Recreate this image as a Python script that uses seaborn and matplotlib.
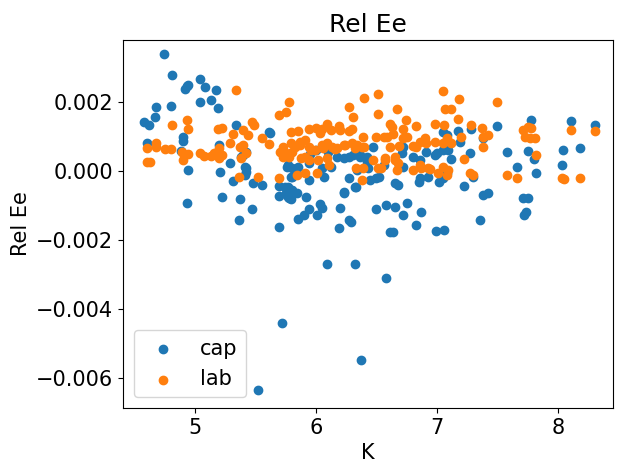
import numpy as np
import pandas as pd
import seaborn as sns
from matplotlib import pyplot as plt

# cap points (K, Rel Ee)
cap_k = [4.74, 4.81, 4.93, 4.94, 4.92, 5.04, 5.08, 5.17, 5.04, 5.13, 5.19, 4.68, 4.67, 4.80,
         4.58, 4.62, 4.60, 4.90, 4.90, 5.34, 5.61, 5.20, 5.38, 5.29, 5.42, 4.94, 5.21, 5.31,
         5.41, 5.48, 5.55, 5.69, 5.77, 5.22, 5.37, 4.93, 5.47, 5.36, 5.69, 5.69, 5.78, 4.88,
         5.40, 5.42, 5.41, 5.42,
         5.62, 5.77, 5.80, 5.85, 5.94, 6.05, 6.12, 6.17, 6.23, 6.27, 6.31, 6.36, 6.34, 6.27,
         6.32, 6.23, 6.07, 5.94, 5.80, 5.74, 5.80, 5.95, 6.00, 6.10,
         7.05, 7.08, 6.98, 7.05, 6.80, 6.86, 6.72, 6.69, 6.47, 6.42, 6.45, 6.52, 6.65, 6.68,
         6.86, 7.05, 7.02, 5.76, 5.79, 5.77, 5.84,
         5.75, 5.79, 5.92, 5.85, 5.90, 5.94, 6.01, 6.03, 6.05, 6.20, 6.23, 6.19, 6.27, 6.29,
         6.33, 6.50, 6.58, 6.65, 6.72, 6.75, 6.87, 6.83, 6.61, 6.64, 6.99, 7.06, 6.09, 6.32,
         6.58, 6.85, 5.72, 6.37, 5.52,
         7.50, 7.78, 8.11, 8.31, 7.58, 7.75, 7.66, 7.80, 7.82, 8.04, 8.18, 8.03, 7.38, 7.42,
         7.75, 7.71, 7.74, 7.72, 7.36, 7.22, 7.27, 7.12, 7.28, 7.17, 7.19, 7.38, 7.30,
         6.36, 6.42, 6.43, 6.56, 6.71, 6.72, 6.91, 7.00, 7.09, 6.93, 6.50, 7.08]
cap_ee = [0.00339, 0.00280, 0.00247, 0.00249, 0.00238, 0.00266, 0.00243, 0.00234, 0.00200,
          0.00205, 0.00182, 0.00186, 0.00157, 0.00188, 0.00143, 0.00135, 0.00082, 0.00098,
          0.00088, 0.00133, 0.00113, 0.00077, 0.00041, 0.00022, 0.00008, 0.00003, -0.00004,
          -0.00029, -0.00012, -0.00034, -0.00041, -0.00043, -0.00045, -0.00074, -0.00082,
          -0.00094, -0.00111, -0.00143, -0.00161, -0.00072, -0.00079, 0.00058,
          0.00046, 0.00056, 0.00012, -0.00002,
          0.00111, 0.00017, 0.00008, 0.00012, 0.00022, 0.00008, 0.00012, 0.00041, 0.00037,
          0.00041, 0.00046, 0.00046, 0.00003, -0.00021, -0.00045, -0.00060, -0.00016,
          -0.00026, -0.00016, -0.00045, -0.00055, 0.00050, 0.00060, 0.00055,
          0.00114, 0.00104, 0.00046, 0.00061, 0.00041, 0.00032, 0.00070, 0.00012, 0.00070,
          0.00041, -0.00026, -0.00017, -0.00036, -0.00040, -0.00021, -0.00021, -0.00031,
          0.00012, -0.00017, -0.00074, -0.00065,
          -0.00063, -0.00082, -0.00076, -0.00140, -0.00128, -0.00111, -0.00128, -0.00096,
          -0.00108, -0.00108, -0.00065, -0.00166, -0.00142, -0.00147, -0.00047, -0.00111,
          -0.00099, -0.00105, -0.00128, -0.00094, -0.00118, -0.00157, -0.00178, -0.00178,
          -0.00174, -0.00171, -0.00270, -0.00270, -0.00310, -0.00031, -0.00442, -0.00549,
          -0.00636,
          0.00130, 0.00148, 0.00145, 0.00133, 0.00054, 0.00058, 0.00011, 0.00034, -0.00007,
          0.00061, 0.00066, 0.00019, -0.00068, -0.00065, -0.00079, -0.00079, -0.00118,
          -0.00128, -0.00142, -0.00043, 0.00051, 0.00035, 0.00121, 0.00117, 0.00085, 0.00095,
          -0.00017,
          0.00041, 0.00027, 0.00008, 0.00017, 0.00051, 0.00012, 0.00056, 0.00051, 0.00061,
          -0.00016, -0.00021, -0.00007]

# lab points
lab_k = [5.34, 5.78, 5.69, 5.75, 4.81, 4.93, 4.94, 5.19, 5.22, 5.31, 5.40, 5.44, 5.47, 5.49,
         5.55, 5.61, 5.29, 5.37, 5.40, 5.42, 4.68, 4.68, 4.60, 4.75, 4.80, 4.89, 4.91, 4.94,
         4.90, 5.04, 5.07, 5.13, 5.16, 5.20, 5.22, 5.20, 5.36, 5.52, 5.69, 4.60, 4.63, 5.75,
         5.78, 5.38,
         6.40, 6.51, 7.05, 6.27, 6.31, 6.51, 6.67, 6.74, 7.07, 6.83, 6.98, 7.06, 6.61, 6.63,
         5.79, 5.94, 6.05, 6.09, 6.19, 6.27, 6.39, 6.50, 6.56, 6.59, 6.72, 6.75, 6.86, 6.90,
         6.83, 6.80, 6.98, 7.05, 5.73, 5.80, 5.87, 5.91, 5.96, 6.02, 6.06, 6.11, 5.84, 5.91,
         6.01, 6.17, 6.24, 6.32, 6.40, 6.33, 6.39, 6.38, 6.47, 6.54, 6.57, 6.65, 6.67, 6.68,
         6.80, 6.86, 6.93, 7.01, 7.05, 7.08,
         5.85, 6.00, 6.03, 6.12, 6.20, 6.30, 5.70, 5.73, 5.79, 5.83, 5.87, 5.91, 5.94, 5.99,
         6.05, 6.09, 6.13, 6.16, 6.23, 6.30, 6.34, 6.38, 5.88, 5.94, 6.09,
         6.64, 6.72, 6.91, 7.08, 6.61, 6.69, 6.57, 6.51, 6.65, 6.87, 6.94, 7.09,
         7.18, 7.12, 7.50, 7.17, 7.28, 7.37, 7.42, 7.38, 7.20, 7.12, 7.38, 7.22, 7.71, 7.75,
         7.78, 7.73, 7.77, 7.81, 7.82, 7.58, 7.66, 8.03, 8.05, 8.18, 8.11, 8.31, 7.27, 7.30]
lab_ee = [0.00235, 0.00201, 0.00162, 0.00172, 0.00135, 0.00148, 0.00121, 0.00121, 0.00124,
          0.00107, 0.00119, 0.00104, 0.00143, 0.00133, 0.00095, 0.00078, 0.00082, 0.00070,
          0.00075, 0.00051, 0.00080, 0.00070, 0.00066, 0.00063, 0.00063, 0.00056, 0.00046,
          0.00049, 0.00032, 0.00051, 0.00043, 0.00043, 0.00051, 0.00066, 0.00046, 0.00037,
          -0.00017, -0.00017, -0.00021, 0.00027, 0.00027, 0.00051, 0.00041, 0.00037,
          0.00211, 0.00223, 0.00232, 0.00185, 0.00157, 0.00167, 0.00179, 0.00148, 0.00179,
          0.00130, 0.00136, 0.00133, 0.00138, 0.00128, 0.00114, 0.00121, 0.00121, 0.00136,
          0.00130, 0.00117, 0.00100, 0.00100, 0.00100, 0.00100, 0.00121, 0.00100, 0.00085,
          0.00095, 0.00070, 0.00072, 0.00085, 0.00080, 0.00070, 0.00056, 0.00075, 0.00041,
          0.00061, 0.00032, 0.00066, 0.00017, -0.00012, -0.00007, -0.00007, 0.00066, 0.00075,
          0.00066, 0.00070, 0.00008, 0.00008, -0.00026, 0.00032, 0.00008, 0.00032, 0.00041,
          0.00003, 0.00022, 0.00003, 0.00017, 0.00008, -0.00007, 0.00012, -0.00012,
          0.00115, 0.00125, 0.00110, 0.00118, 0.00120, 0.00122, 0.00056, 0.00041, 0.00080,
          0.00070, 0.00085, 0.00090, 0.00070, 0.00061, 0.00075, 0.00080, 0.00070, 0.00063,
          0.00075, 0.00080, 0.00075, 0.00070, 0.00037, 0.00032, 0.00037,
          0.00107, 0.00095, 0.00080, 0.00095, 0.00070, 0.00072, 0.00037, 0.00008, 0.00032,
          0.00008, 0.00005, 0.00003,
          0.00208, 0.00179, 0.00199, 0.00150, 0.00133, 0.00124, 0.00104, 0.00098, 0.00098,
          0.00082, 0.00069, 0.00035, 0.00119, 0.00128, 0.00124, 0.00098, 0.00095, 0.00095,
          0.00048, -0.00012, -0.00021, -0.00021, -0.00024, -0.00021, 0.00119, 0.00116,
          -0.00005, -0.00012]

plt.rcParams['font.size'] = 15

fig, ax = plt.subplots(figsize=(6.28, 4.72), dpi=100)
sns.scatterplot(x=cap_k, y=cap_ee, ax=ax, s=36, linewidth=1, edgecolor='face',
                color='#1f77b4', label='cap')
sns.scatterplot(x=lab_k, y=lab_ee, ax=ax, s=36, linewidth=1, edgecolor='face',
                color='#ff7f0e', label='lab')
ax.set_xlim(4.405, 8.455)
ax.set_ylim(-0.00687, 0.0038)
ax.set_xticks([5, 6, 7, 8])
ax.set_yticks([-0.006, -0.004, -0.002, 0.0, 0.002])
ax.set_xlabel('K')
ax.set_ylabel('Rel Ee')
ax.set_title('Rel Ee')
ax.legend(loc='lower left')
fig.subplots_adjust(left=0.196, right=0.976, top=0.915, bottom=0.136)
plt.savefig('out.png', dpi=100)
